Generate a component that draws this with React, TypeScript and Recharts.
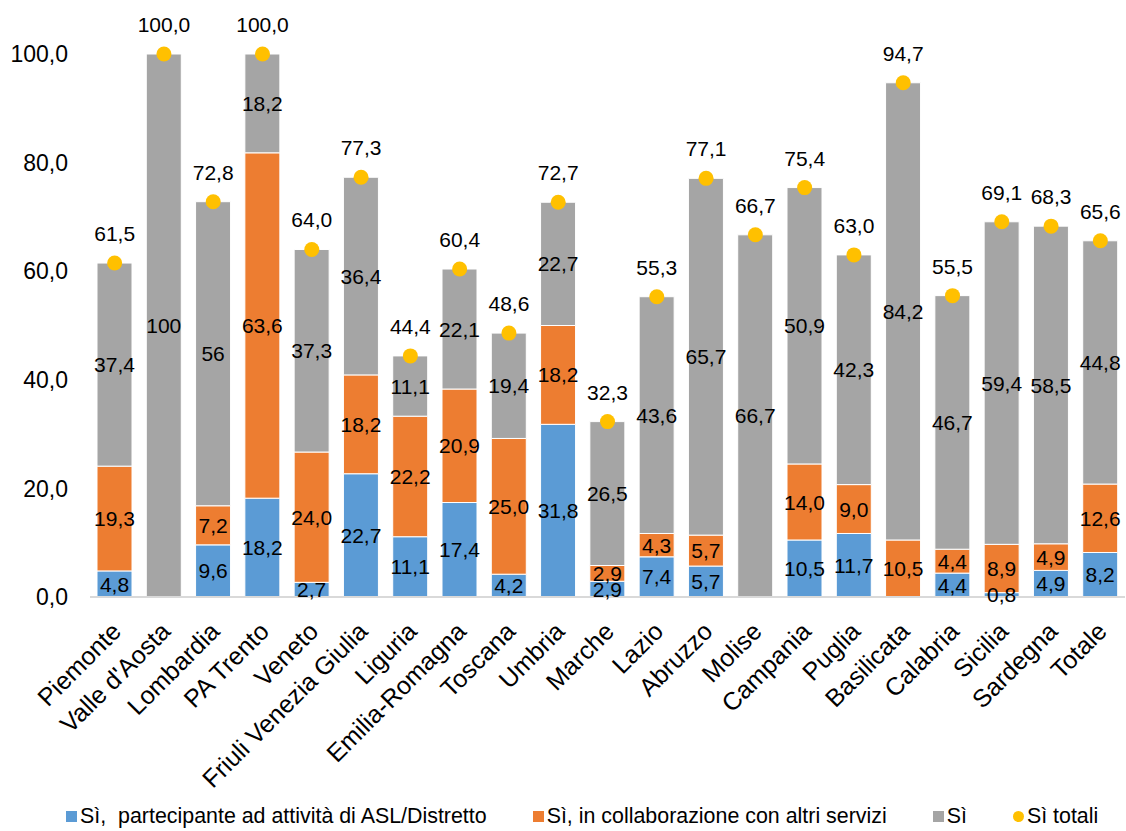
import React from 'react';
import { ComposedChart, Bar, Line, XAxis, YAxis, LabelList, Legend } from 'recharts';

const categories = ['Piemonte', "Valle d'Aosta", 'Lombardia', 'PA Trento', 'Veneto', 'Friuli Venezia Giulia', 'Liguria', 'Emilia-Romagna', 'Toscana', 'Umbria', 'Marche', 'Lazio', 'Abruzzo', 'Molise', 'Campania', 'Puglia', 'Basilicata', 'Calabria', 'Sicilia', 'Sardegna', 'Totale'];
const aslValues = [4.8, 0, 9.6, 18.2, 2.7, 22.7, 11.1, 17.4, 4.2, 31.8, 2.9, 7.4, 5.7, 0, 10.5, 11.7, 0, 4.4, 0.8, 4.9, 8.2];
const collabValues = [19.3, 0, 7.2, 63.6, 24.0, 18.2, 22.2, 20.9, 25.0, 18.2, 2.9, 4.3, 5.7, 0, 14.0, 9.0, 10.5, 4.4, 8.9, 4.9, 12.6];
const siValues = [37.4, 100, 56, 18.2, 37.3, 36.4, 11.1, 22.1, 19.4, 22.7, 26.5, 43.6, 65.7, 66.7, 50.9, 42.3, 84.2, 46.7, 59.4, 58.5, 44.8];
const siLabels = ['37,4', '100', '56', '18,2', '37,3', '36,4', '11,1', '22,1', '19,4', '22,7', '26,5', '43,6', '65,7', '66,7', '50,9', '42,3', '84,2', '46,7', '59,4', '58,5', '44,8'];
const totaliValues = [61.5, 100.0, 72.8, 100.0, 64.0, 77.3, 44.4, 60.4, 48.6, 72.7, 32.3, 55.3, 77.1, 66.7, 75.4, 63.0, 94.7, 55.5, 69.1, 68.3, 65.6];
const yTicks = [0, 20, 40, 60, 80, 100];

const seriesNames = ['Sì,  partecipante ad attività di ASL/Distretto', 'Sì, in collaborazione con altri servizi', 'Sì', 'Sì totali'];
const colors = ['#5B9BD5', '#ED7D31', '#A5A5A5', '#FFC000'];

const data = categories.map((name, i) => ({
  name,
  asl: aslValues[i],
  collab: collabValues[i],
  si: siValues[i],
  siLabel: siLabels[i],
  tot: totaliValues[i],
}));

const FONT = '"Liberation Sans", Arial, sans-serif';
const fmt = (v: number) => v.toFixed(1).replace('.', ',');

const XTick = (props: any) => {
  const { x, y, payload } = props;
  const ax = x + 8;
  const ay = y + 28;
  return (
    <text x={ax} y={ay} transform={`rotate(-45 ${ax} ${ay})`} textAnchor="end" fontSize={25} fontFamily={FONT} fill="#000">
      {payload.value}
    </text>
  );
};

const barLabel = (fmtFn: (v: any) => string) => (props: any) => {
  const { x, y, width, height, value } = props;
  if (!value) return null;
  return (
    <text x={x + width / 2} y={y + height / 2} dy="0.36em" textAnchor="middle" fontSize={21} fontFamily={FONT} fill="#000">
      {fmtFn(value)}
    </text>
  );
};

const TotDot = (props: any) => {
  const { cx, cy, payload, index } = props;
  return (
    <g key={`dot-${index}`}>
      <circle cx={cx} cy={cy} r={7.5} fill={colors[3]} />
      <text x={cx} y={cy - 22} textAnchor="middle" fontSize={21} fontFamily={FONT} fill="#000">
        {fmt(payload.tot)}
      </text>
    </g>
  );
};

const LegendContent = () => (
  <div style={{ display: 'flex', justifyContent: 'flex-start', alignItems: 'center', height: 30, fontFamily: FONT, fontSize: 21.4, color: '#000', paddingLeft: 66, boxSizing: 'border-box' }}>
    {seriesNames.map((n, i) => (
      <div key={n} style={{ display: 'flex', alignItems: 'center', marginRight: i < 3 ? 46 : 0 }}>
        <span style={{ display: 'inline-block', width: 11, height: 11, background: colors[i], borderRadius: i === 3 ? '50%' : 0, marginRight: 3 }} />
        <span style={{ whiteSpace: 'pre' }}>{n}</span>
      </div>
    ))}
  </div>
);

export default function App() {
  return (
    <div style={{ position: 'absolute', left: 0, top: 0, width: 1126, height: 831, background: '#fff' }}>
      <ComposedChart width={1126} height={831} data={data} margin={{ top: 54, right: 1, left: 0, bottom: 0 }} barSize={35}>
        <XAxis dataKey="name" interval={0} tick={<XTick />} tickLine={false} axisLine={{ stroke: '#D9D9D9', strokeWidth: 2 }} height={204} />
        <YAxis domain={[0, 100]} ticks={yTicks} tickFormatter={fmt} axisLine={false} tickLine={false} tickMargin={16} width={90}
          tick={{ fontSize: 23, fontFamily: FONT, fill: '#000' }} />
        <Legend verticalAlign="bottom" content={<LegendContent />} wrapperStyle={{ left: 0, width: 1126 }} />
        <Bar dataKey="asl" stackId="a" fill={colors[0]} stroke="#fff" strokeWidth={1} isAnimationActive={false}>
          <LabelList dataKey="asl" content={barLabel(fmt)} />
        </Bar>
        <Bar dataKey="collab" stackId="a" fill={colors[1]} stroke="#fff" strokeWidth={1} isAnimationActive={false}>
          <LabelList dataKey="collab" content={barLabel(fmt)} />
        </Bar>
        <Bar dataKey="si" stackId="a" fill={colors[2]} stroke="#fff" strokeWidth={1} isAnimationActive={false}>
          <LabelList dataKey="siLabel" content={barLabel((v) => String(v))} />
        </Bar>
        <Line dataKey="tot" stroke="none" strokeWidth={0} dot={<TotDot />} activeDot={false} isAnimationActive={false} />
      </ComposedChart>
    </div>
  );
}
